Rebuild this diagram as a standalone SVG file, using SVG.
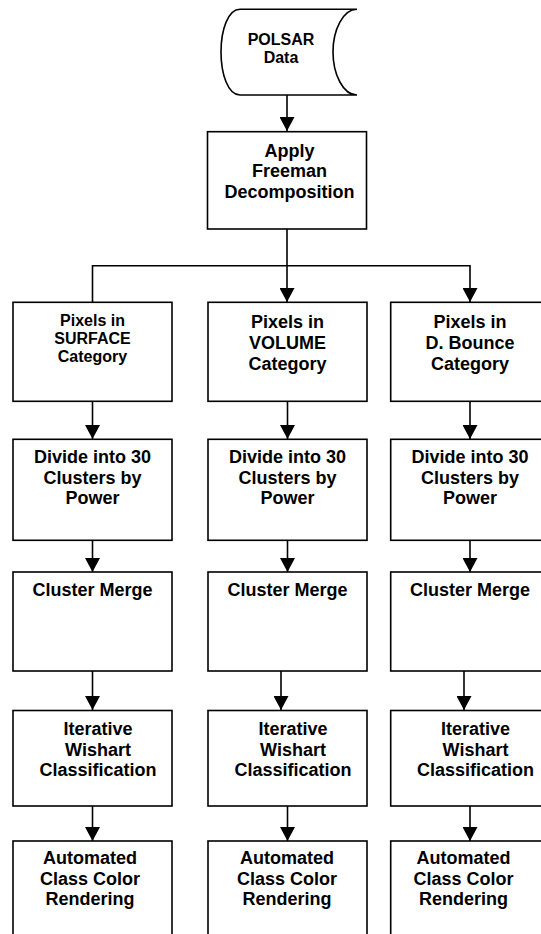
<svg xmlns="http://www.w3.org/2000/svg" width="541" height="934" viewBox="0 0 541 934">
<style>
.box{fill:#fff;stroke:#000;stroke-width:1.6}
.t{font-family:"Liberation Sans",Arial,sans-serif;font-weight:bold;font-size:18px;fill:#000;text-anchor:middle}
.s{font-size:16px}
.c{fill:none;stroke:#000;stroke-width:1.6}
</style>
<defs>
<marker id="ah" viewBox="0 0 14 15" refX="14" refY="7.5" markerWidth="14" markerHeight="15" markerUnits="userSpaceOnUse" orient="auto">
<path d="M0,0 L14,7.5 L0,15 Z" fill="#000"/>
</marker>
</defs>
<rect width="541" height="934" fill="#fff"/>
<g id="connectors">
<path class="c" d="M287,95 V131" marker-end="url(#ah)"/>
<path class="c" d="M287,229 V302" marker-end="url(#ah)"/>
<path class="c" d="M92.5,302 V265.7 H470 V302" marker-end="url(#ah)"/>
<path class="c" d="M92.5,401 V439" marker-end="url(#ah)"/>
<path class="c" d="M287.5,401 V439" marker-end="url(#ah)"/>
<path class="c" d="M470,401 V439" marker-end="url(#ah)"/>
<path class="c" d="M92.5,540 V572" marker-end="url(#ah)"/>
<path class="c" d="M287.5,540 V572" marker-end="url(#ah)"/>
<path class="c" d="M470,540 V572" marker-end="url(#ah)"/>
<path class="c" d="M92.5,671 V710" marker-end="url(#ah)"/>
<path class="c" d="M281,671 V710" marker-end="url(#ah)"/>
<path class="c" d="M464,671 V710" marker-end="url(#ah)"/>
<path class="c" d="M92.5,806 V841" marker-end="url(#ah)"/>
<path class="c" d="M287.5,806 V841" marker-end="url(#ah)"/>
<path class="c" d="M470,806 V841" marker-end="url(#ah)"/>
</g>
<g id="polsar">
<path class="box" d="M240,9.3 H357 C343,9.3 333,30 333,52 C333,74 343,95 357,95 H240 C228,95 221,74 221,52 C221,30 228,9.3 240,9.3 Z"/>
<text class="t s" x="281" y="45">POLSAR</text>
<text class="t s" x="281" y="63">Data</text>
</g>
<g id="freeman">
<rect class="box" x="207.5" y="131.7" width="159" height="97.3"/>
<text class="t" x="289.5" y="156.7">Apply</text>
<text class="t" x="289.5" y="177.4">Freeman</text>
<text class="t" x="289.5" y="198.1">Decomposition</text>
</g>
<g id="surface">
<rect class="box" x="13" y="302.3" width="159" height="99"/>
<text class="t s" x="92.5" y="326">Pixels in</text>
<text class="t s" x="92.5" y="344">SURFACE</text>
<text class="t s" x="92.5" y="362">Category</text>
</g>
<g id="volume">
<rect class="box" x="208" y="302.3" width="159" height="99"/>
<text class="t" x="287.5" y="328.3">Pixels in</text>
<text class="t" x="287.5" y="349">VOLUME</text>
<text class="t" x="287.5" y="369.7">Category</text>
</g>
<g id="dbounce">
<rect class="box" x="390.7" y="302.3" width="159" height="99"/>
<text class="t" x="470" y="328.3">Pixels in</text>
<text class="t" x="470" y="349">D. Bounce</text>
<text class="t" x="470" y="369.7">Category</text>
</g>
<g id="divide1">
<rect class="box" x="13" y="439.3" width="159" height="101"/>
<text class="t" x="92.5" y="463">Divide into 30</text>
<text class="t" x="92.5" y="483.7">Clusters by</text>
<text class="t" x="92.5" y="504.4">Power</text>
</g>
<g id="divide2">
<rect class="box" x="208" y="439.3" width="159" height="101"/>
<text class="t" x="287.5" y="463">Divide into 30</text>
<text class="t" x="287.5" y="483.7">Clusters by</text>
<text class="t" x="287.5" y="504.4">Power</text>
</g>
<g id="divide3">
<rect class="box" x="390.7" y="439.3" width="159" height="101"/>
<text class="t" x="470" y="463">Divide into 30</text>
<text class="t" x="470" y="483.7">Clusters by</text>
<text class="t" x="470" y="504.4">Power</text>
</g>
<g id="merge1">
<rect class="box" x="13" y="572" width="159" height="99"/>
<text class="t" x="92.5" y="596">Cluster Merge</text>
</g>
<g id="merge2">
<rect class="box" x="208" y="572" width="159" height="99"/>
<text class="t" x="287.5" y="596">Cluster Merge</text>
</g>
<g id="merge3">
<rect class="box" x="390.7" y="572" width="159" height="99"/>
<text class="t" x="470" y="596">Cluster Merge</text>
</g>
<g id="wishart1">
<rect class="box" x="13" y="710.5" width="159" height="95.5"/>
<text class="t" x="98" y="735">Iterative</text>
<text class="t" x="98" y="755.7">Wishart</text>
<text class="t" x="98" y="776.4">Classification</text>
</g>
<g id="wishart2">
<rect class="box" x="208" y="710.5" width="159" height="95.5"/>
<text class="t" x="293" y="735">Iterative</text>
<text class="t" x="293" y="755.7">Wishart</text>
<text class="t" x="293" y="776.4">Classification</text>
</g>
<g id="wishart3">
<rect class="box" x="390.7" y="710.5" width="159" height="95.5"/>
<text class="t" x="475.5" y="735">Iterative</text>
<text class="t" x="475.5" y="755.7">Wishart</text>
<text class="t" x="475.5" y="776.4">Classification</text>
</g>
<g id="render1">
<rect class="box" x="13" y="841" width="159" height="110"/>
<text class="t" x="90" y="864">Automated</text>
<text class="t" x="90" y="884.7">Class Color</text>
<text class="t" x="90" y="905.4">Rendering</text>
</g>
<g id="render2">
<rect class="box" x="208" y="841" width="159" height="110"/>
<text class="t" x="287" y="864">Automated</text>
<text class="t" x="287" y="884.7">Class Color</text>
<text class="t" x="287" y="905.4">Rendering</text>
</g>
<g id="render3">
<rect class="box" x="390.7" y="841" width="159" height="110"/>
<text class="t" x="463.5" y="864">Automated</text>
<text class="t" x="463.5" y="884.7">Class Color</text>
<text class="t" x="463.5" y="905.4">Rendering</text>
</g>
</svg>
